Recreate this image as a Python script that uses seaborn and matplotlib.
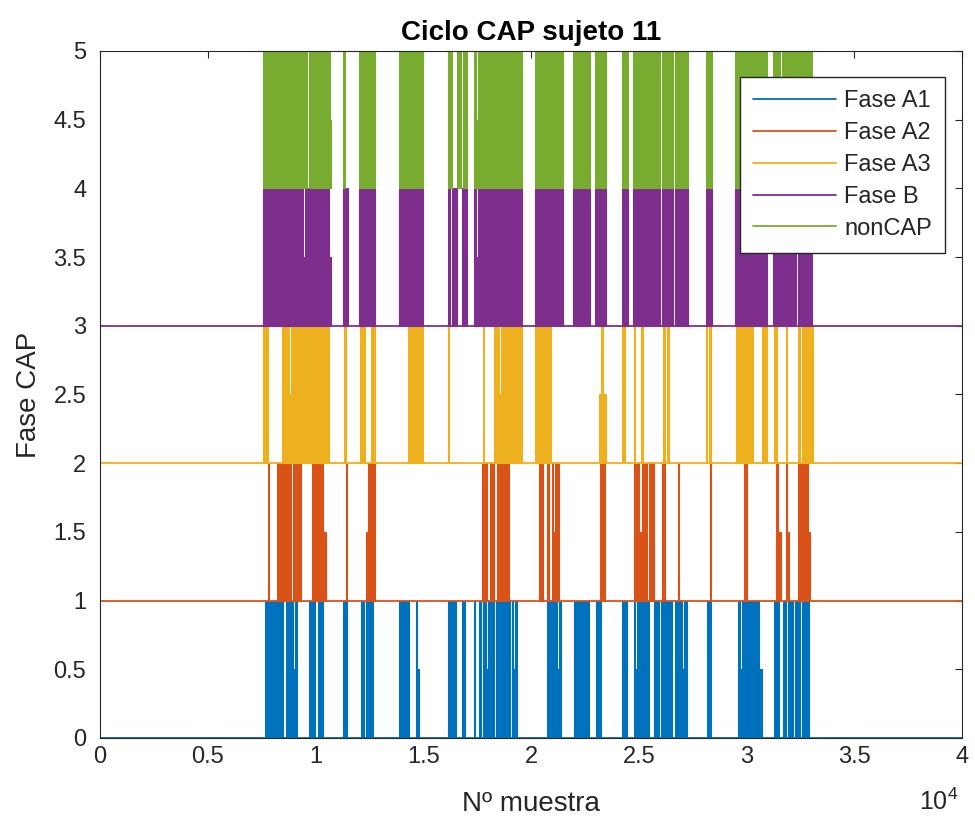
import numpy as np
import pandas as pd
import matplotlib
matplotlib.use("Agg")
import matplotlib.pyplot as plt
import seaborn as sns

# Sample ranges (start, end, fraction of band) where each phase is active
fase_a1 = [
    (7656, 8507, 1), (8615, 8971, 1), (8971, 9048, 0.5), (9048, 9126, 1),
    (9714, 9977, 1), (10100, 10363, 1), (11292, 11446, 1), (12111, 12235, 1),
    (12328, 12684, 1), (13890, 14339, 1), (14649, 14711, 1), (14711, 14803, 0.5),
    (16134, 16288, 1), (16350, 16505, 1), (16783, 16938, 1), (17356, 17403, 1),
    (17603, 17681, 1), (17789, 17928, 1), (17928, 17990, 0.5), (17990, 18145, 1),
    (18145, 18207, 0.5), (18207, 18299, 1), (18361, 19026, 1), (19104, 19181, 1),
    (19181, 19259, 0.5), (19259, 19336, 1), (20756, 21220, 1), (21220, 21298, 0.5),
    (21298, 21391, 1), (21979, 22164, 1), (22164, 22241, 0.5), (22241, 22350, 1),
    (22350, 22427, 0.5), (22427, 22690, 1), (22999, 23247, 1), (24206, 24469, 1),
    (24779, 24825, 1), (24825, 24918, 0.5), (24918, 25490, 1), (25707, 25939, 1),
    (26032, 26295, 1), (26372, 26558, 1), (26681, 27021, 1), (27021, 27099, 0.5),
    (27099, 27223, 1), (28182, 28337, 1), (29590, 29698, 1), (29698, 29775, 0.5),
    (29775, 30579, 1), (30579, 30734, 0.5), (31292, 31508, 1), (31678, 31817, 1),
    (31941, 32173, 1), (32249, 32483, 1), (32560, 32900, 1),
]
fase_a2 = [
    (7780, 7842, 1), (8228, 8863, 1), (8971, 9327, 1), (9822, 10363, 1),
    (10363, 10472, 0.5), (11400, 11462, 1), (12328, 12421, 0.5), (12421, 12761, 1),
    (17712, 17959, 1), (18114, 18299, 1), (18439, 18996, 1), (20370, 20555, 1),
    (20756, 20834, 1), (20958, 21035, 1), (21035, 21112, 0.5), (21112, 21298, 1),
    (23201, 23278, 1), (23355, 23433, 1), (24779, 25011, 1), (25011, 25134, 0.5),
    (25134, 25397, 1), (25475, 25707, 1), (26063, 26217, 1), (26805, 26867, 1),
    (28290, 28352, 1), (29884, 30038, 1), (31353, 31384, 0.5), (31384, 31477, 1),
    (31477, 31601, 0.5), (31817, 31879, 1), (31879, 31972, 0.5), (32406, 32838, 1),
    (32838, 32946, 0.5),
]
fase_a3 = [
    (7579, 7780, 1), (8430, 8785, 1), (8785, 8863, 0.5), (8863, 10626, 1),
    (11338, 11400, 1), (12065, 12297, 1), (12575, 12761, 1), (14277, 15004, 1),
    (16134, 16196, 1), (17774, 17835, 1), (18284, 18531, 1), (18531, 18609, 0.5),
    (18609, 19568, 1), (20187, 20927, 1), (23170, 23231, 0.5), (23231, 23324, 1),
    (23324, 23464, 0.5), (24206, 24361, 1), (24779, 24825, 1), (25103, 25181, 1),
    (26140, 26217, 1), (26326, 26403, 1), (28105, 28167, 1), (28259, 28337, 1),
    (29497, 30317, 1), (30704, 30967, 1), (31276, 31431, 1), (31817, 31895, 1),
    (32406, 32483, 1), (32560, 33101, 1),
]
fase_b = [
    (7579, 9435, 1), (9435, 9512, 0.5), (9512, 10626, 1), (10626, 10719, 0.5),
    (11292, 11493, 1), (12034, 12761, 1), (13875, 14973, 1), (16165, 16227, 1),
    (16319, 16551, 1), (16783, 17046, 1), (17371, 17433, 1), (17433, 17526, 0.5),
    (17526, 19568, 1), (20187, 21499, 1), (21963, 22737, 1), (22969, 23464, 1),
    (24206, 24485, 1), (24748, 25985, 1), (26063, 26604, 1), (26681, 27269, 1),
    (28105, 28383, 1), (29466, 30967, 1), (31245, 32281, 1), (32406, 33024, 1),
]
non_cap = [
    (7579, 9621, 1), (9714, 10673, 1), (10673, 10719, 0.5), (11292, 11369, 1),
    (12034, 12761, 1), (13875, 14850, 1), (14896, 14973, 1), (16165, 16350, 1),
    (16551, 16752, 1), (16845, 17031, 1), (17356, 17433, 1), (17433, 17526, 0.5),
    (17526, 19568, 1), (20187, 20493, 1), (20493, 20571, 0.5), (20571, 20772, 1),
    (20834, 21499, 1), (21963, 22737, 1), (22969, 23464, 1), (24206, 24485, 1),
    (24748, 24949, 1), (24949, 25011, 0.5), (25011, 25985, 1), (26063, 26604, 1),
    (26681, 27269, 1), (28105, 28383, 1), (29466, 30967, 1), (31245, 31555, 1),
    (31632, 33024, 1),
]

series_names = ["Fase A1", "Fase A2", "Fase A3", "Fase B", "nonCAP"]
series_data = [fase_a1, fase_a2, fase_a3, fase_b, non_cap]
band_base = [0, 1, 2, 3, 4]
rest_level = [0, 1, 2, 3, 5]
n_samples = 40000

x_ticks = [0, 5000, 10000, 15000, 20000, 25000, 30000, 35000, 40000]
x_tick_labels = ["0", "0.5", "1", "1.5", "2", "2.5", "3", "3.5", "4"]
y_ticks = [0, 0.5, 1, 1.5, 2, 2.5, 3, 3.5, 4, 4.5, 5]
y_tick_labels = ["0", "0.5", "1", "1.5", "2", "2.5", "3", "3.5", "4", "4.5", "5"]

colors = ["#0072BD", "#D95319", "#EDB120", "#7E2F8E", "#77AC30"]
ink = "#262626"

sns.set_theme(style="white")
plt.rcParams["font.family"] = ["Liberation Sans", "DejaVu Sans"]

fig = plt.figure(figsize=(9.75, 8.25), dpi=100)
ax = fig.add_axes([0.1026, 0.1055, 0.8841, 0.8327])

# Baseline traces (one per phase) drive the legend
rest = pd.DataFrame({
    "muestra": np.concatenate([[0, n_samples] for _ in series_names]),
    "fase": np.repeat(series_names, 2),
    "nivel": np.repeat(rest_level, 2),
})
sns.lineplot(data=rest, x="muestra", y="nivel", hue="fase", hue_order=series_names,
             palette=colors, estimator=None, sort=False, linewidth=1.3, ax=ax, zorder=3)

# Active stretches drawn as blocks inside each phase band
for k, (data, base, col) in enumerate(zip(series_data, band_base, colors)):
    for s, e, h in data:
        ax.fill_between([s, e], base, base + h, facecolor=col, edgecolor=col,
                        linewidth=0.8, zorder=1 + 0.1 * k)

ax.set_xlim(0, n_samples)
ax.set_ylim(0, 5)
ax.set_xticks(x_ticks)
ax.set_xticklabels(x_tick_labels)
ax.set_yticks(y_ticks)
ax.set_yticklabels(y_tick_labels)
ax.tick_params(direction="in", length=5, width=0.8, colors=ink, labelsize=17,
               top=True, right=True)
ax.tick_params(axis="x", pad=6)
ax.tick_params(axis="y", pad=10)
for sp in ax.spines.values():
    sp.set_color(ink)
    sp.set_linewidth(0.8)
    sp.set_zorder(5)

ax.set_title("Ciclo CAP sujeto 11", fontsize=20, fontweight="bold", color="black", pad=8)
ax.set_xlabel("Nº muestra", fontsize=20, color=ink, labelpad=16)
ax.set_ylabel("Fase CAP", fontsize=20, color=ink, labelpad=8)
ax.text(0.973, -0.093, r"$\mathregular{10^{4}}$", transform=ax.transAxes,
        fontsize=18, color=ink, ha="center", va="center")

handles, labels = ax.get_legend_handles_labels()
leg = ax.legend(handles, labels, loc="upper right", bbox_to_anchor=(0.98, 0.962),
                fontsize=17, frameon=True, fancybox=False, framealpha=1,
                edgecolor=ink, handlelength=3.5, handletextpad=0.34,
                labelspacing=0.42, borderpad=0.55, borderaxespad=0)
leg.get_frame().set_linewidth(1.0)
leg.set_zorder(10)

fig.savefig("out.png", dpi=100, facecolor="white")
